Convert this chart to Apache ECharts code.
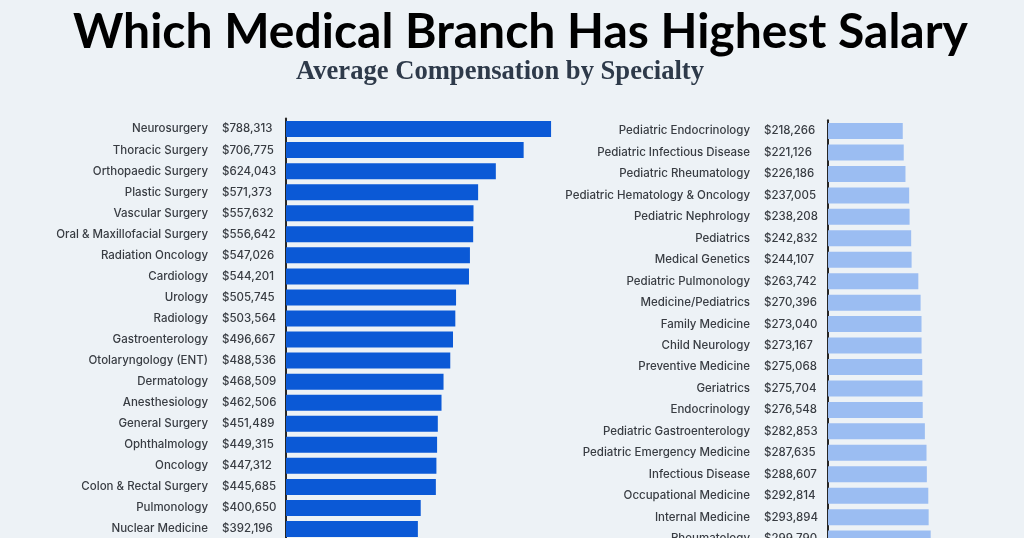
<!DOCTYPE html>
<html>
<head>
<meta charset="utf-8">
<script src="https://cdn.jsdelivr.net/npm/echarts@6/dist/echarts.min.js"></script>
<style>
  html, body { margin: 0; padding: 0; background: #edf2f6; }
  #chart { width: 1024px; height: 538px; }
</style>
</head>
<body>
<div id="chart"></div>
<script>
// top specialties (left panel)
var topNames = ['Neurosurgery', 'Thoracic Surgery', 'Orthopaedic Surgery', 'Plastic Surgery',
    'Vascular Surgery', 'Oral & Maxillofacial Surgery', 'Radiation Oncology', 'Cardiology',
    'Urology', 'Radiology', 'Gastroenterology', 'Otolaryngology (ENT)', 'Dermatology',
    'Anesthesiology', 'General Surgery', 'Ophthalmology', 'Oncology', 'Colon & Rectal Surgery',
    'Pulmonology', 'Nuclear Medicine'];
var topValues = [788313, 706775, 624043, 571373, 557632, 556642, 547026, 544201, 505745, 503564,
    496667, 488536, 468509, 462506, 451489, 449315, 447312, 445685, 400650, 392196];

// lowest specialties (right panel)
var lowNames = ['Pediatric Endocrinology', 'Pediatric Infectious Disease', 'Pediatric Rheumatology',
    'Pediatric Hematology & Oncology', 'Pediatric Nephrology', 'Pediatrics', 'Medical Genetics',
    'Pediatric Pulmonology', 'Medicine/Pediatrics', 'Family Medicine', 'Child Neurology',
    'Preventive Medicine', 'Geriatrics', 'Endocrinology', 'Pediatric Gastroenterology',
    'Pediatric Emergency Medicine', 'Infectious Disease', 'Occupational Medicine',
    'Internal Medicine', 'Rheumatology'];
var lowValues = [218266, 221126, 226186, 237005, 238208, 242832, 244107, 263742, 270396, 273040,
    273167, 275068, 275704, 276548, 282853, 287635, 288607, 292814, 293894, 299790];

var myChart = echarts.init(document.getElementById('chart'));

function money(v) {
    return '$' + v.toLocaleString('en-US');
}

// name, small gap, then the value in a fixed box next to the axis
function makeLabel(values) {
    return {
        margin: 0,
        formatter: function (name, idx) {
            return '{n|' + name + '}{g| }{v|' + money(values[idx]) + '}';
        },
        rich: {
            n: { align: 'left', fontSize: 11.5, fontWeight: 500, color: '#383c42', fontFamily: 'Inter' },
            g: { align: 'left', width: 14, fontSize: 11.5 },
            v: { align: 'left', width: 64, fontSize: 11.5, fontWeight: 500, color: '#383c42', fontFamily: 'Inter' }
        }
    };
}

var option = {
    backgroundColor: '#edf2f6',
    animation: false,
    title: [
        {
            text: 'Which Medical Branch Has Highest Salary',
            left: 68,
            top: 4,
            textStyle: {
                fontSize: 48,
                fontWeight: 'bold',
                color: '#000',
                fontFamily: 'Lato'
            }
        },
        {
            text: 'Average Compensation by Specialty',
            left: 291,
            top: 54,
            textStyle: {
                fontSize: 26.6,
                fontWeight: 'bold',
                color: '#2e3a4a',
                fontFamily: 'Liberation Serif'
            }
        }
    ],
    grid: [
        { left: 286, top: 118.5, width: 269, height: 421, outerBoundsMode: 'none' },
        { left: 828, top: 120.3, width: 137, height: 429, outerBoundsMode: 'none' }
    ],
    xAxis: [
        { type: 'value', gridIndex: 0, min: 0, max: 800000, show: false },
        { type: 'value', gridIndex: 1, min: 0, max: 400000, show: false }
    ],
    yAxis: [
        {
            type: 'category', gridIndex: 0, inverse: true, data: topNames,
            axisLine: { lineStyle: { color: '#262626', width: 2 } },
            axisTick: { show: false },
            axisLabel: makeLabel(topValues)
        },
        {
            type: 'category', gridIndex: 1, inverse: true, data: lowNames,
            axisLine: { lineStyle: { color: '#262626', width: 2 } },
            axisTick: { show: false },
            axisLabel: makeLabel(lowValues)
        }
    ],
    series: [
        {
            type: 'bar', xAxisIndex: 0, yAxisIndex: 0,
            data: topValues, barWidth: 16,
            itemStyle: { color: '#0b59d6' }
        },
        {
            type: 'bar', xAxisIndex: 1, yAxisIndex: 1,
            data: lowValues, barWidth: 16,
            itemStyle: { color: '#9bbdf2' }
        }
    ]
};

myChart.setOption(option);
</script>
</body>
</html>
